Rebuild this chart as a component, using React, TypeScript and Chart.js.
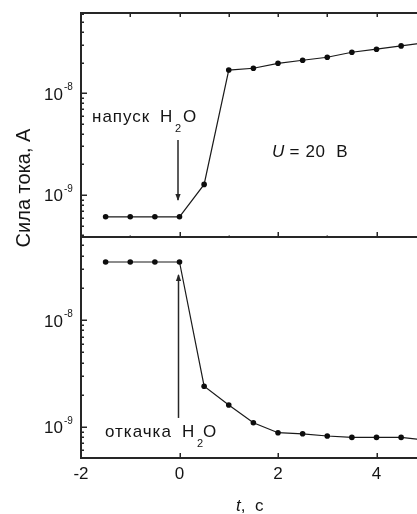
import React, { useEffect, useRef } from 'react';
import { Chart, registerables } from 'chart.js';

Chart.register(...registerables);

// ---- data ----
const timeTop = [-1.5, -1, -0.5, 0, 0.5, 1, 1.5, 2, 2.5, 3, 3.5, 4, 4.5, 5];
const currentTop = [6.1e-10, 6.1e-10, 6.1e-10, 6.1e-10, 1.27e-9, 1.69e-8, 1.76e-8, 1.97e-8, 2.11e-8, 2.26e-8, 2.53e-8, 2.71e-8, 2.92e-8, 3.15e-8];
const timeBottom = [-1.5, -1, -0.5, 0, 0.5, 1, 1.5, 2, 2.5, 3, 3.5, 4, 4.5, 5];
const currentBottom = [3.5e-8, 3.5e-8, 3.5e-8, 3.5e-8, 2.4e-9, 1.6e-9, 1.09e-9, 8.8e-10, 8.6e-10, 8.2e-10, 7.95e-10, 7.95e-10, 7.95e-10, 7.5e-10];
const xTickLabels = [-2, 0, 2, 4];
const yDecadeExps = [-8, -9];
// arrow ranges (time, current from -> to)
const arrowTop = { t: 0, from: 3.47e-9, to: 8.9e-10 };
const arrowBottom = { t: 0, from: 1.21e-9, to: 2.64e-8 };

const W = 500;
const H = 514;
const FONT = '"Liberation Sans", Arial, Helvetica, sans-serif';
const AXIS = '#262626';
const TEXT = '#141414';

function drawPow(ctx: CanvasRenderingContext2D, xRight: number, yTick: number, exp: number) {
  ctx.fillStyle = TEXT;
  ctx.textBaseline = 'alphabetic';
  ctx.textAlign = 'right';
  ctx.font = `17px ${FONT}`;
  ctx.fillText('10', xRight, yTick + 6.5);
  ctx.textAlign = 'left';
  ctx.font = `10px ${FONT}`;
  ctx.fillText(String(exp), xRight + 1, yTick - 3);
}

function drawArrow(ctx: CanvasRenderingContext2D, x: number, y1: number, y2: number) {
  ctx.strokeStyle = AXIS;
  ctx.fillStyle = AXIS;
  ctx.lineWidth = 1.5;
  ctx.beginPath();
  ctx.moveTo(x, y1);
  ctx.lineTo(x, y2);
  ctx.stroke();
  const dir = y2 > y1 ? 1 : -1;
  ctx.beginPath();
  ctx.moveTo(x - 2.6, y2 - dir * 6);
  ctx.lineTo(x + 2.6, y2 - dir * 6);
  ctx.lineTo(x, y2 + dir * 1);
  ctx.closePath();
  ctx.fill();
}

function chemText(ctx: CanvasRenderingContext2D, word: string, xWord: number, xH: number, x2: number, xO: number, base: number) {
  ctx.fillStyle = TEXT;
  ctx.textAlign = 'left';
  ctx.textBaseline = 'alphabetic';
  ctx.font = `17px ${FONT}`;
  (ctx as any).letterSpacing = '1px';
  ctx.fillText(word, xWord, base);
  (ctx as any).letterSpacing = '0px';
  ctx.fillText('H', xH, base);
  ctx.fillText('O', xO, base);
  ctx.font = `11px ${FONT}`;
  ctx.fillText('2', x2, base + 10);
}

function makePlugin(kind: 'top' | 'bottom') {
  return {
    id: 'frame_' + kind,
    afterDraw(chart: any) {
      const { ctx, chartArea: a } = chart;
      const xs = chart.scales.x;
      const ys = chart.scales.y;
      ctx.save();
      ctx.strokeStyle = AXIS;
      ctx.lineCap = 'butt';
      ctx.lineWidth = 2;
      ctx.beginPath();
      ctx.moveTo(a.left, a.top - (kind === 'top' ? 1 : 0));
      ctx.lineTo(a.left, a.bottom + (kind === 'bottom' ? 1 : 0));
      ctx.stroke();
      ctx.beginPath();
      if (kind === 'top') {
        ctx.moveTo(a.left - 1, a.top);
        ctx.lineTo(a.right, a.top);
        ctx.moveTo(a.left - 1, a.bottom);
        ctx.lineTo(a.right, a.bottom);
      } else {
        ctx.moveTo(a.left - 1, a.bottom);
        ctx.lineTo(a.right, a.bottom);
      }
      ctx.stroke();

      // y ticks (inward)
      ctx.lineWidth = 1.5;
      ctx.beginPath();
      for (let d = -11; d <= -6; d++) {
        for (let m = 1; m <= 9; m++) {
          const v = m * Math.pow(10, d);
          if (v < ys.min || v > ys.max) continue;
          const y = Math.round(ys.getPixelForValue(v)) + 0.25;
          const len = m === 1 ? 6 : 3;
          ctx.moveTo(a.left, y);
          ctx.lineTo(a.left + len, y);
        }
      }
      ctx.stroke();

      // x ticks
      ctx.beginPath();
      for (let t = -1; t <= 6; t++) {
        const px = Math.round(xs.getPixelForValue(t)) + 0.25;
        if (kind === 'top') {
          ctx.moveTo(px, a.top);
          ctx.lineTo(px, a.top + 4);
          const len = t % 2 === 0 ? 5 : 1.5;
          ctx.moveTo(px, a.bottom);
          ctx.lineTo(px, a.bottom - len);
        } else if (t % 2 === 0) {
          ctx.moveTo(px, a.bottom);
          ctx.lineTo(px, a.bottom - 5);
        }
      }
      ctx.stroke();

      // y labels
      for (const e of yDecadeExps) {
        drawPow(ctx, 63, ys.getPixelForValue(Math.pow(10, e)), e);
      }

      if (kind === 'top') {
        const px = xs.getPixelForValue(arrowTop.t) - 1.5;
        drawArrow(ctx, px, ys.getPixelForValue(arrowTop.from), ys.getPixelForValue(arrowTop.to));
        chemText(ctx, 'напуск', 92, 160, 175, 183, 122);
        // U = 20 B
        ctx.fillStyle = TEXT;
        ctx.textAlign = 'left';
        ctx.font = `italic 17px ${FONT}`;
        ctx.fillText('U', 272, 157);
        const wU = ctx.measureText('U').width;
        ctx.font = `17px ${FONT}`;
        (ctx as any).letterSpacing = '0.6px';
        ctx.fillText(' = 20  В', 272 + wU, 157);
        (ctx as any).letterSpacing = '0px';
      } else {
        const px = xs.getPixelForValue(arrowBottom.t) - 1;
        drawArrow(ctx, px, ys.getPixelForValue(arrowBottom.from), ys.getPixelForValue(arrowBottom.to));
        chemText(ctx, 'откачка', 105, 182, 197, 203, 437);
        // x labels
        ctx.fillStyle = TEXT;
        ctx.font = `17px ${FONT}`;
        ctx.textAlign = 'center';
        ctx.textBaseline = 'alphabetic';
        for (const t of xTickLabels) {
          ctx.fillText(String(t), xs.getPixelForValue(t), 479);
        }
        // x title
        ctx.textAlign = 'left';
        ctx.font = `italic 17px ${FONT}`;
        const xt = 236;
        ctx.fillText('t', xt, 511);
        const wt = ctx.measureText('t').width;
        ctx.font = `17px ${FONT}`;
        ctx.fillText(',  c', xt + wt, 511);
        // y title
        ctx.save();
        ctx.translate(30, 188);
        ctx.rotate(-Math.PI / 2);
        ctx.textAlign = 'center';
        ctx.font = `20px ${FONT}`;
        ctx.fillText('Сила тока, А', 0, 0);
        ctx.restore();
      }
      ctx.restore();
    },
  };
}

function makeConfig(kind: 'top' | 'bottom') {
  const times = kind === 'top' ? timeTop : timeBottom;
  const vals = kind === 'top' ? currentTop : currentBottom;
  const pad = kind === 'top'
    ? { left: 81, top: 13, right: W - 475, bottom: H - 237 }
    : { left: 81, top: 237, right: W - 475, bottom: H - 458 };
  const yr = kind === 'top' ? { min: 3.86e-10, max: 6.15e-8 } : { min: 5.1e-10, max: 6.0e-8 };
  return {
    type: 'line' as const,
    data: {
      datasets: [
        {
          data: times.map((t, i) => ({ x: t, y: vals[i] })),
          borderColor: '#1a1a1a',
          borderWidth: 1.2,
          pointRadius: 2.8,
          pointBackgroundColor: '#0d0d0d',
          pointBorderWidth: 0,
          tension: 0,
          fill: false,
        },
      ],
    },
    options: {
      responsive: false,
      animation: false as const,
      devicePixelRatio: 1,
      events: [],
      layout: { padding: pad },
      plugins: { legend: { display: false }, tooltip: { enabled: false } },
      scales: {
        x: { type: 'linear' as const, min: -2, max: 6, display: false },
        y: { type: 'logarithmic' as const, min: yr.min, max: yr.max, display: false },
      },
    },
    plugins: [makePlugin(kind)],
  };
}

export default function App() {
  const topRef = useRef<HTMLCanvasElement | null>(null);
  const botRef = useRef<HTMLCanvasElement | null>(null);
  useEffect(() => {
    const c1 = new Chart(topRef.current as HTMLCanvasElement, makeConfig('top') as any);
    const c2 = new Chart(botRef.current as HTMLCanvasElement, makeConfig('bottom') as any);
    return () => {
      c1.destroy();
      c2.destroy();
    };
  }, []);
  const cs: React.CSSProperties = { position: 'absolute', left: 0, top: 0, width: W, height: H };
  return (
    <div style={{ position: 'fixed', left: 0, top: 0, width: 417, height: 514, overflow: 'hidden', background: '#fff' }}>
      <canvas ref={topRef} width={W} height={H} style={cs} />
      <canvas ref={botRef} width={W} height={H} style={cs} />
    </div>
  );
}
